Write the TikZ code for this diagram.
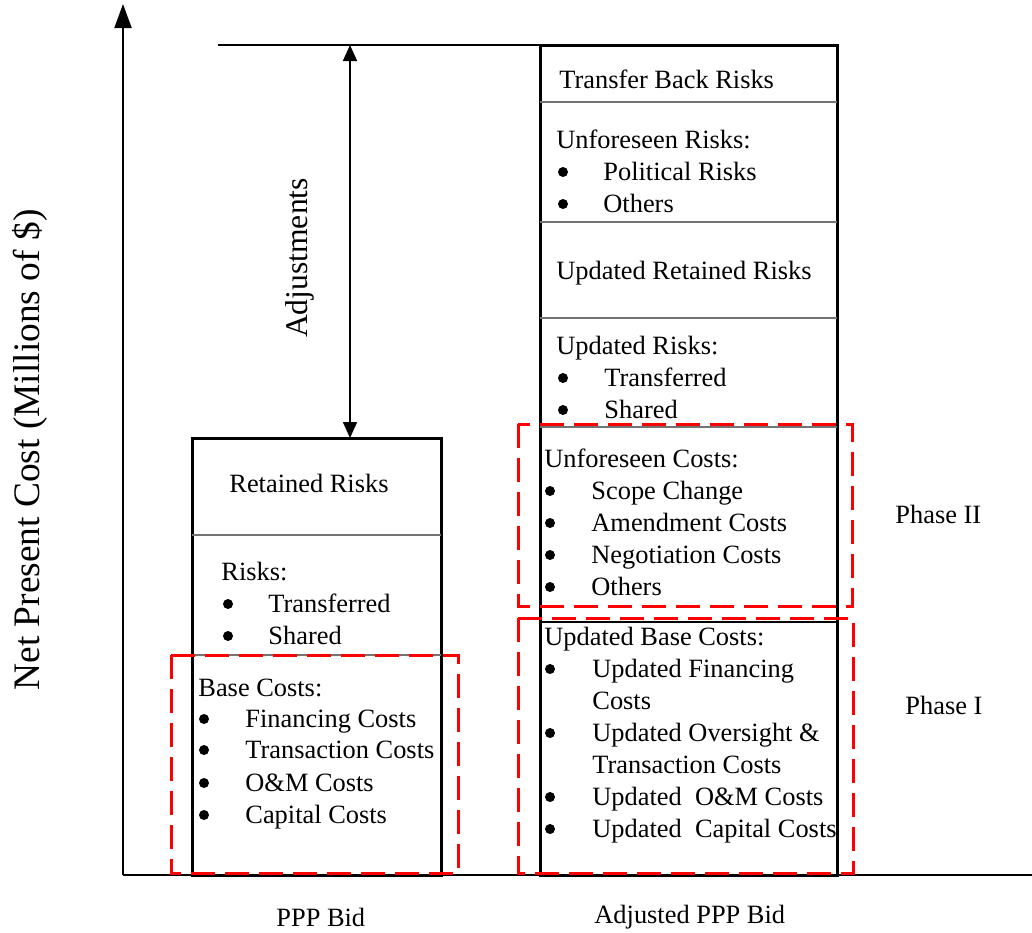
\documentclass[tikz,border=0pt]{standalone}
\usepackage{fontspec}
\setmainfont{Liberation Serif}
\usetikzlibrary{arrows.meta}

\begin{document}
\begin{tikzpicture}[x=0.5pt,y=-0.5pt,
    txt/.style={anchor=base west,inner sep=0pt,font=\fontsize{13.2}{16}\selectfont},
    bulletmark/.style={circle,fill,inner sep=0pt,minimum size=5pt},
    barbox/.style={draw,line width=1.5pt},
    divline/.style={draw=black!55,line width=0.6pt},
    phasebox/.style={draw=red,line width=1.5pt,dash pattern=on 12pt off 5pt},
    axis/.style={line width=1pt}]
    \useasboundingbox (0,0) rectangle (1032,932);

    % axes
    \coordinate (o) at (123,875);
    \coordinate (ytop) at (123,4);
    \coordinate (xend) at (1032,875);
    \draw[axis,-{Triangle[length=12pt,width=8.5pt]}] (o) -- (ytop);
    \draw[axis] (o) -- (xend);
    \node (ylab) at (30,450) [rotate=90,inner sep=0pt,font=\fontsize{18.7}{22}\selectfont] {Net Present Cost (Millions of \$)};

    % adjustment
    \coordinate (lvl) at (218,45);
    \coordinate (adjtop) at (350,45);
    \coordinate (adjbot) at (350,438);
    \draw[axis] (lvl) -- (540,45);
    \draw[line width=0.8pt,{Triangle[length=8pt,width=7pt]}-{Triangle[length=8pt,width=7pt]}] (adjtop) -- (adjbot);
    \node (adj) at (300,258) [rotate=90,inner sep=0pt,font=\fontsize{15.8}{18}\selectfont] {Adjustments};

    % PPP bid
    \draw[barbox] (192,438) rectangle (441,875);
    \draw[divline] (192,535) -- (441,535);
    \draw[divline] (192,655) -- (441,655);
    \node[txt] (rr) at (229,492) {Retained Risks};
    \node[txt] (rk) at (221,580) {Risks:};
    \node[bulletmark] (rk1b) at (228,604) {};
    \node[txt] (rk1) at (268,612) {Transferred};
    \node[bulletmark] (rk2b) at (228,636) {};
    \node[txt] (rk2) at (268,644) {Shared};
    \node[txt] (bc) at (198,696) {Base Costs:};
    \node[bulletmark] (bc1b) at (204,719) {};
    \node[txt] (bc1) at (245,727) {Financing Costs};
    \node[bulletmark] (bc2b) at (204,750) {};
    \node[txt] (bc2) at (245,758) {Transaction Costs};
    \node[bulletmark] (bc3b) at (204,783) {};
    \node[txt] (bc3) at (245,791) {O\&M Costs};
    \node[bulletmark] (bc4b) at (204,815) {};
    \node[txt] (bc4) at (245,823) {Capital Costs};
    \node[txt] (bid) at (276,926) {PPP Bid};

    % adjusted PPP bid
    \draw[barbox] (540,45) rectangle (837,875);
    \draw[divline] (540,102) -- (837,102);
    \draw[divline] (540,222) -- (837,222);
    \draw[divline] (540,318) -- (837,318);
    \draw[divline] (540,427) -- (837,427);
    \draw[line width=0.6pt] (540,622) -- (837,622);
    \node[txt] (tb) at (559,88) {Transfer Back Risks};
    \node[txt] (ur) at (556,148) {Unforeseen Risks:};
    \node[bulletmark] (ur1b) at (563,172) {};
    \node[txt] (ur1) at (603,180) {Political Risks};
    \node[bulletmark] (ur2b) at (563,204) {};
    \node[txt] (ur2) at (603,212) {Others};
    \node[txt] (urr) at (556,279) {Updated Retained Risks};
    \node[txt] (uk) at (556,354) {Updated Risks:};
    \node[bulletmark] (uk1b) at (563,378) {};
    \node[txt] (uk1) at (604,386) {Transferred};
    \node[bulletmark] (uk2b) at (563,410) {};
    \node[txt] (uk2) at (604,418) {Shared};
    \node[txt] (uc) at (544,467) {Unforeseen Costs:};
    \node[bulletmark] (uc1b) at (550,491) {};
    \node[txt] (uc1) at (591,499) {Scope Change};
    \node[bulletmark] (uc2b) at (550,523) {};
    \node[txt] (uc2) at (591,531) {Amendment Costs};
    \node[bulletmark] (uc3b) at (550,555) {};
    \node[txt] (uc3) at (591,563) {Negotiation Costs};
    \node[bulletmark] (uc4b) at (550,587) {};
    \node[txt] (uc4) at (591,595) {Others};
    \node[txt] (ub) at (544,645) {Updated Base Costs:};
    \node[bulletmark] (ub1b) at (550,669) {};
    \node[txt] (ub1) at (592,677) {Updated Financing};
    \node[txt] (ub1x) at (592,709) {Costs};
    \node[bulletmark] (ub2b) at (550,733) {};
    \node[txt] (ub2) at (592,741) {Updated Oversight \&};
    \node[txt] (ub2x) at (592,773) {Transaction Costs};
    \node[bulletmark] (ub3b) at (550,797) {};
    \node[txt] (ub3) at (592,805) {Updated\ \ O\&M Costs};
    \node[bulletmark] (ub4b) at (550,829) {};
    \node[txt] (ub4) at (592,837) {Updated\ \ Capital Costs};
    \node[txt] (abid) at (594,923) {Adjusted PPP Bid};

    % phases
    \draw[phasebox] (171,655) rectangle (458,873);
    \draw[phasebox] (518,424) rectangle (852,606);
    \draw[phasebox] (518,618) rectangle (853,873);
    \node[txt] (p2) at (895,523) {Phase II};
    \node[txt] (p1) at (905,714) {Phase I};
\end{tikzpicture}
\end{document}
